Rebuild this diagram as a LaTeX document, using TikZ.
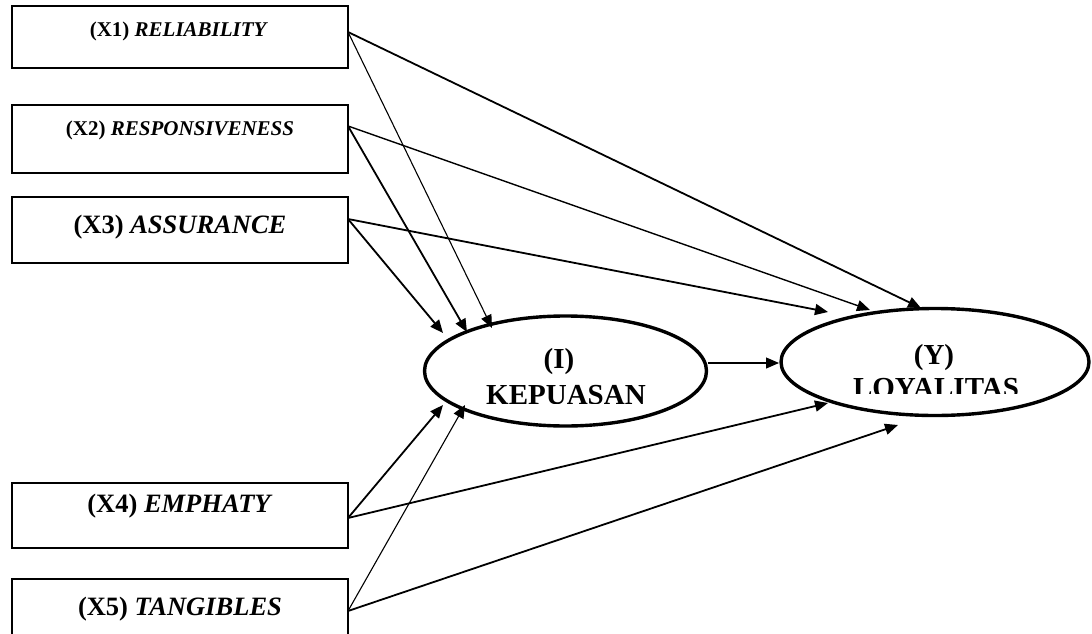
\documentclass[tikz,border=0pt]{standalone}
\usepackage{fontspec}
\setmainfont{Liberation Serif}
\usetikzlibrary{arrows.meta,shapes.geometric}
\begin{document}
\begin{tikzpicture}[x=1pt,y=-1pt,
  box/.style={draw,line width=1.8pt,minimum width=336pt,inner sep=0pt},
  oval/.style={draw,ellipse,line width=3.4pt,inner sep=0pt},
  smalllab/.style={anchor=base,inner sep=0pt,font=\fontsize{21}{24}\selectfont\bfseries},
  biglab/.style={anchor=base,inner sep=0pt,font=\fontsize{26.5}{30}\selectfont\bfseries},
  ovallab/.style={anchor=base,inner sep=0pt,font=\fontsize{29}{32}\selectfont\bfseries},
  tip/.style={-{Triangle[length=13pt,width=11pt]}},
  thickarr/.style={tip,line width=1.8pt},
  thinarr/.style={tip,line width=1.1pt},
  midarr/.style={tip,line width=1.4pt}]
\useasboundingbox (0,0) rectangle (1092,634);
\clip (0,0) rectangle (1092,634);
% boxes
\node[box,minimum height=62pt] (x1) at (180,37) {};
\node[box,minimum height=68pt] (x2) at (180,139) {};
\node[box,minimum height=66pt] (x3) at (180,230) {};
\node[box,minimum height=65pt] (x4) at (180,515.5) {};
\node[box,minimum height=65pt] (x5) at (180,611.5) {};
\node[smalllab] (x1t) at (179,37) {(X1) \textit{RELIABILITY}};
\node[smalllab] (x2t) at (180,135) {(X2) \textit{RESPONSIVENESS}};
\node[biglab] (x3t) at (180,233) {(X3) \textit{ASSURANCE}};
\node[biglab] (x4t) at (180,512) {(X4) \textit{EMPHATY}};
\node[biglab] (x5t) at (180,615) {(X5) \textit{TANGIBLES}};
% ellipses
\node[oval,minimum width=282pt,minimum height=110pt] (I) at (565.5,371) {};
\node[oval,minimum width=308pt,minimum height=107pt] (Y) at (935,362) {};
\node[ovallab] (It) at (559,368) {(I)};
\node[ovallab] (Yt) at (934,364) {(Y)};
\begin{scope}
\clip (400,330) rectangle (720,403.5);
\node[ovallab] (Kt) at (566,404.5) {KEPUASAN};
\end{scope}
\begin{scope}
\clip (800,330) rectangle (1080,393.5);
\node[ovallab] (Lt) at (936,397.5) {LOYALITAS};
\end{scope}
% start points
\coordinate (s1) at (348,32);
\coordinate (s2) at (348,126);
\coordinate (s3) at (348,219);
\coordinate (s4) at (348,518);
\coordinate (s5) at (348,611);
% tips
\coordinate (i1) at (492,328);
\coordinate (i2) at (467,332);
\coordinate (i3) at (443,333);
\coordinate (i4) at (443,405);
\coordinate (i5) at (465,405);
\coordinate (y1) at (921,308);
\coordinate (y2) at (870,310);
\coordinate (y3) at (828,312);
\coordinate (y4) at (828,403);
\coordinate (y5) at (898,425);
\coordinate (is) at (708,363);
\coordinate (ye) at (779,363);
% connectors
\draw[thinarr] (s1) -- (i1);
\draw[thickarr] (s1) -- (y1);
\draw[thickarr] (s2) -- (i2);
\draw[midarr] (s2) -- (y2);
\draw[thickarr] (s3) -- (i3);
\draw[thickarr] (s3) -- (y3);
\draw[thickarr] (s4) -- (i4);
\draw[thickarr] (s4) -- (y4);
\draw[thinarr] (s5) -- (i5);
\draw[thickarr] (s5) -- (y5);
\draw[thinarr] (is) -- (ye);
\end{tikzpicture}
\end{document}
